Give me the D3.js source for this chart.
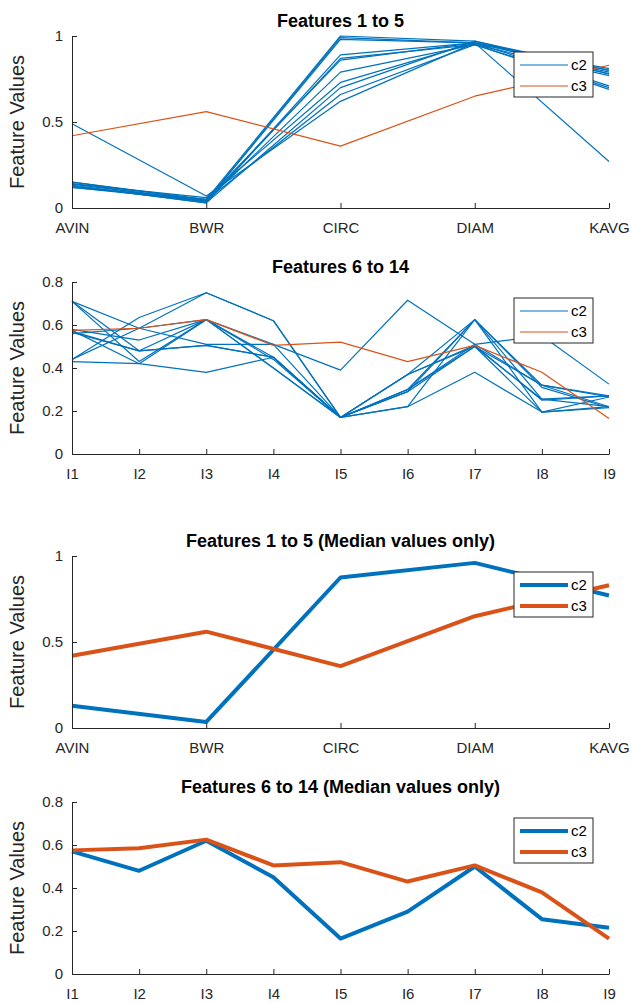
<!DOCTYPE html>
<html>
<head>
<meta charset="utf-8">
<script src="https://cdn.jsdelivr.net/npm/d3@7"></script>
<style>
  body { margin: 0; background: #fff; }
  svg { font-family: "Liberation Sans", Arial, sans-serif; }
</style>
</head>
<body>
<svg id="chart" width="631" height="1003"></svg>
<script>
// feature names
const features1 = ['AVIN', 'BWR', 'CIRC', 'DIAM', 'KAVG'];
const features2 = ['I1', 'I2', 'I3', 'I4', 'I5', 'I6', 'I7', 'I8', 'I9'];

// c2 samples, features 1 to 5 (one row per sample)
const c2Samples1 = [
    [0.49, 0.07, 0.62, 0.96, 0.27],
    [0.15, 0.05, 1.00, 0.97, 0.80],
    [0.14, 0.04, 0.99, 0.96, 0.79],
    [0.14, 0.04, 0.98, 0.96, 0.78],
    [0.13, 0.03, 0.89, 0.96, 0.81],
    [0.13, 0.035, 0.87, 0.95, 0.77],
    [0.12, 0.05, 0.86, 0.96, 0.71],
    [0.12, 0.04, 0.79, 0.95, 0.69],
    [0.14, 0.06, 0.73, 0.96, 0.80],
    [0.13, 0.03, 0.70, 0.97, 0.78],
    [0.15, 0.045, 0.66, 0.95, 0.70]
];
const c3Sample1 = [0.42, 0.56, 0.36, 0.65, 0.83];

// c2 samples, features 6 to 14
const c2Samples2 = [
    [0.71, 0.585, 0.51, 0.51, 0.39, 0.715, 0.51, 0.55, 0.325],
    [0.71, 0.43, 0.625, 0.40, 0.17, 0.30, 0.625, 0.32, 0.27],
    [0.71, 0.48, 0.625, 0.45, 0.17, 0.37, 0.625, 0.255, 0.22],
    [0.58, 0.53, 0.625, 0.44, 0.17, 0.29, 0.50, 0.195, 0.265],
    [0.57, 0.48, 0.505, 0.45, 0.17, 0.22, 0.625, 0.31, 0.215],
    [0.56, 0.585, 0.625, 0.51, 0.17, 0.37, 0.505, 0.25, 0.27],
    [0.44, 0.635, 0.75, 0.62, 0.17, 0.22, 0.38, 0.195, 0.215],
    [0.43, 0.42, 0.38, 0.45, 0.17, 0.30, 0.50, 0.32, 0.265],
    [0.575, 0.42, 0.625, 0.40, 0.17, 0.29, 0.625, 0.195, 0.22],
    [0.565, 0.48, 0.505, 0.45, 0.17, 0.37, 0.50, 0.255, 0.27],
    [0.44, 0.585, 0.75, 0.62, 0.17, 0.30, 0.51, 0.32, 0.22]
];
const c3Sample2 = [0.575, 0.585, 0.625, 0.505, 0.52, 0.43, 0.505, 0.38, 0.165];

// median values
const c2Median1 = [0.13, 0.035, 0.875, 0.96, 0.77];
const c3Median1 = [0.42, 0.56, 0.36, 0.65, 0.83];
const c2Median2 = [0.57, 0.48, 0.62, 0.45, 0.165, 0.29, 0.50, 0.255, 0.215];
const c3Median2 = [0.575, 0.585, 0.625, 0.505, 0.52, 0.43, 0.505, 0.38, 0.165];

const yTicks1 = [0, 0.5, 1];
const yTicks2 = [0, 0.2, 0.4, 0.6, 0.8];

const classes = ['c2', 'c3'];
const colors = d3.scaleOrdinal().domain(classes).range(['#0072BD', '#D95319']);

const plotLeft = 72, plotRight = 609, plotHeight = 172;
const axisColor = '#262626';

const panels = [
    {title: 'Features 1 to 5', features: features1, yMax: 1, ticks: yTicks1, top: 36, width: 1.2,
     series: [...c2Samples1.map(v => ({cls: 'c2', values: v})), {cls: 'c3', values: c3Sample1}]},
    {title: 'Features 6 to 14', features: features2, yMax: 0.8, ticks: yTicks2, top: 282, width: 1.2,
     series: [...c2Samples2.map(v => ({cls: 'c2', values: v})), {cls: 'c3', values: c3Sample2}]},
    {title: 'Features 1 to 5 (Median values only)', features: features1, yMax: 1, ticks: yTicks1, top: 556, width: 4,
     series: [{cls: 'c2', values: c2Median1}, {cls: 'c3', values: c3Median1}]},
    {title: 'Features 6 to 14 (Median values only)', features: features2, yMax: 0.8, ticks: yTicks2, top: 802, width: 4,
     series: [{cls: 'c2', values: c2Median2}, {cls: 'c3', values: c3Median2}]}
];

const svg = d3.select('#chart');

panels.forEach(p => {
    const g = svg.append('g');
    const bottom = p.top + plotHeight;

    const x = d3.scalePoint().domain(p.features).range([plotLeft, plotRight]);
    const y = d3.scaleLinear().domain([0, p.yMax]).range([bottom, p.top]);

    const line = d3.line()
        .x((d, i) => x(p.features[i]))
        .y(d => y(d));

    g.selectAll('.series')
        .data(p.series)
        .join('path')
        .attr('class', 'series')
        .attr('d', d => line(d.values))
        .attr('fill', 'none')
        .attr('stroke', d => colors(d.cls))
        .attr('stroke-width', p.width)
        .attr('stroke-linejoin', 'round');

    // axes, MATLAB style ticks pointing inward
    const yAxis = g.append('g')
        .attr('transform', `translate(${plotLeft},0)`)
        .call(d3.axisLeft(y).tickValues(p.ticks).tickFormat(d3.format('~g'))
            .tickSizeInner(-5).tickSizeOuter(0).tickPadding(9));

    const xAxis = g.append('g')
        .attr('transform', `translate(0,${bottom})`)
        .call(d3.axisBottom(x).tickSizeInner(-5).tickSizeOuter(0).tickPadding(14));

    [yAxis, xAxis].forEach(a => {
        a.selectAll('path, line').attr('stroke', axisColor);
        a.selectAll('text').attr('fill', axisColor).attr('font-size', 15)
            .attr('font-family', '"Liberation Sans", Arial, sans-serif');
    });

    g.append('text')
        .attr('x', (plotLeft + plotRight) / 2)
        .attr('y', p.top - 9)
        .attr('text-anchor', 'middle')
        .attr('font-weight', 'bold')
        .attr('font-size', 18)
        .attr('fill', '#000')
        .text(p.title);

    g.append('text')
        .attr('transform', `translate(24,${(p.top + bottom) / 2}) rotate(-90)`)
        .attr('text-anchor', 'middle')
        .attr('font-size', 20)
        .attr('fill', axisColor)
        .text('Feature Values');

    // legend
    const lg = g.append('g').attr('transform', `translate(514,${p.top + 16})`);
    lg.append('rect')
        .attr('width', 79).attr('height', 45)
        .attr('fill', '#fff').attr('stroke', axisColor).attr('stroke-width', 1);
    lg.selectAll('.entry')
        .data(classes)
        .join(enter => {
            const e = enter.append('g').attr('class', 'entry')
                .attr('transform', (d, i) => `translate(0,${13 + i * 21})`);
            e.append('line')
                .attr('x1', 6).attr('x2', 54)
                .attr('stroke', d => colors(d)).attr('stroke-width', p.width);
            e.append('text')
                .attr('x', 57).attr('dy', '0.35em')
                .attr('font-size', 15).attr('fill', '#000')
                .text(d => d);
            return e;
        });
});
</script>
</body>
</html>
